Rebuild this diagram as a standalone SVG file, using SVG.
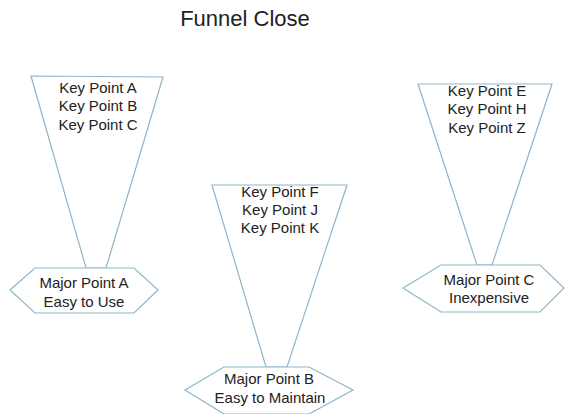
<svg xmlns="http://www.w3.org/2000/svg" width="567" height="414" viewBox="0 0 567 414">
<style>
.shape{fill:#ffffff;stroke:#8db6ca;stroke-width:1.2;stroke-linejoin:miter}
.t{font-family:"Liberation Sans",Arial,sans-serif;font-size:15px;fill:#222222;text-anchor:middle}
.title{font-family:"Liberation Sans",Arial,sans-serif;font-size:22px;fill:#222222;text-anchor:middle}
</style>
<rect width="567" height="414" fill="#ffffff"/>
<text class="title" x="245" y="26">Funnel Close</text>
<g id="connectors"></g>
<g id="funnelA">
<polygon class="shape" points="31,76 163,77 106,268 86,268"/>
<text class="t" x="98" y="93">Key Point A</text>
<text class="t" x="98" y="111">Key Point B</text>
<text class="t" x="98" y="130">Key Point C</text>
</g>
<g id="majorA">
<polygon class="shape" points="10,290 35,268 134,268 158,290 134,313 35,313"/>
<text class="t" x="84" y="288">Major Point A</text>
<text class="t" x="84" y="307">Easy to Use</text>
</g>
<g id="funnelB">
<polygon class="shape" points="212,185 347,185 287,367 266,367"/>
<text class="t" x="280" y="197">Key Point F</text>
<text class="t" x="280" y="215">Key Point J</text>
<text class="t" x="280" y="233">Key Point K</text>
</g>
<g id="majorB">
<polygon class="shape" points="185,390 224,367 309,367 353,390 309,414 224,414"/>
<text class="t" x="269" y="384">Major Point B</text>
<text class="t" x="270" y="403">Easy to Maintain</text>
</g>
<g id="funnelC">
<polygon class="shape" points="418,84 552,84 492,265 477,265"/>
<text class="t" x="487" y="96">Key Point E</text>
<text class="t" x="487" y="114">Key Point H</text>
<text class="t" x="487" y="133">Key Point Z</text>
</g>
<g id="majorC">
<polygon class="shape" points="403,288 441,265 540,265 564,288 540,312 441,312"/>
<text class="t" x="489" y="285">Major Point C</text>
<text class="t" x="489" y="303">Inexpensive</text>
</g>
</svg>
